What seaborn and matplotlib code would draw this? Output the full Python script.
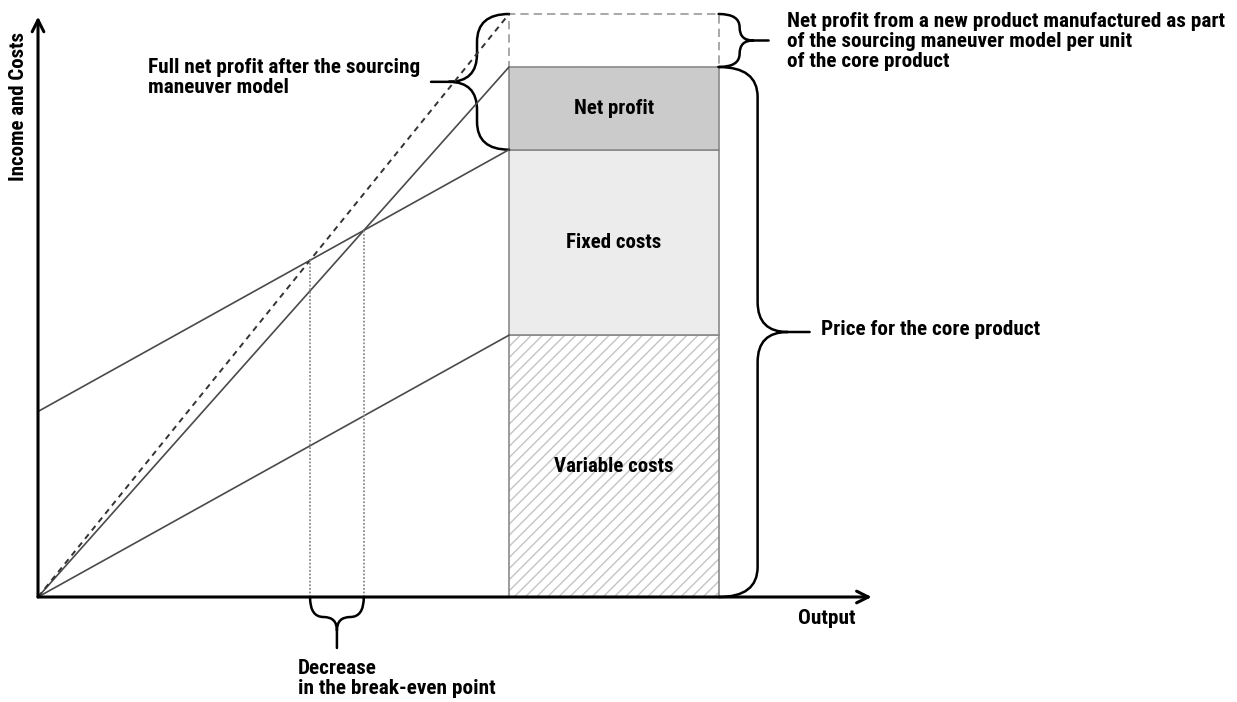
import numpy as np
import pandas as pd
import seaborn as sns
import matplotlib.pyplot as plt
from matplotlib.path import Path
from matplotlib.patches import PathPatch
from matplotlib import font_manager

sns.set_theme(style="white")
names = {f.name for f in font_manager.fontManager.ttflist}
fam = [f for f in ['Roboto Condensed', 'Liberation Sans Narrow', 'Roboto', 'DejaVu Sans'] if f in names]
plt.rcParams['font.family'] = fam
plt.rcParams['hatch.linewidth'] = 1.0

# ---------------- data ----------------
output = [0, 10]                 # output range of the lines
income = [0, 100]                # income, core product
income_new = [0, 110]            # income after the sourcing maneuver
total_costs = [35, 84.4]         # fixed + variable costs
variable_costs = [0, 49.4]       # variable costs

bar_x = 10.0                     # the unit bar stands at this output
bar_w = 4.45
bar_parts = ["Variable costs", "Fixed costs", "Net profit"]
bar_values = [49.4, 35.0, 15.6]
extra_profit = 10.0              # new product profit per unit

x_end = 17.7
y_end = 109.5

# break-even points (line intersections)
def cross(a, b):
    sa = (a[1] - a[0]) / (output[1] - output[0])
    sb = (b[1] - b[0]) / (output[1] - output[0])
    x = (b[0] - a[0]) / (sa - sb)
    return x, a[0] + sa * x

be_old = cross(income, total_costs)
be_new = cross(income_new, total_costs)

# ---------------- figure ----------------
fig = plt.figure(figsize=(12.37, 7.02), dpi=100)
ax = fig.add_axes([0, 0, 1, 1])
ax.set_xlim(-0.807, 25.456)
ax.set_ylim(-19.81, 112.64)
ax.set_axis_off()

line_c = '#4a4a4a'
sns.lineplot(x=output, y=income, color=line_c, lw=1.2, ax=ax)
sns.lineplot(x=output, y=total_costs, color=line_c, lw=1.2, ax=ax)
sns.lineplot(x=output, y=variable_costs, color=line_c, lw=1.2, ax=ax)
sns.lineplot(x=output, y=income_new, color='#333333', lw=1.4, ax=ax,
             linestyle=(0, (3, 2.5)))

# dotted break-even verticals
for bx, by in (be_new, be_old):
    ax.vlines(bx, 0, by, color='#8c8c8c', lw=1.3, linestyles=(0, (1, 1)))

# stacked bar
bottoms = np.concatenate([[0], np.cumsum(bar_values)[:-1]])
fills = ['white', '#ececec', '#cbcbcb']
for i, (name, v, b) in enumerate(zip(bar_parts, bar_values, bottoms)):
    if i == 0:
        ax.bar(bar_x, v, width=bar_w, bottom=b, align='edge', facecolor='white',
               edgecolor='#c4c4c4', lw=0, hatch='///')
    else:
        ax.bar(bar_x, v, width=bar_w, bottom=b, align='edge', facecolor=fills[i], lw=0)
    ax.bar(bar_x, v, width=bar_w, bottom=b, align='edge', fill=False,
           edgecolor='#8a8a8a', lw=1.2)
    ax.text(bar_x + bar_w / 2, b + v / 2, name, ha='center', va='center',
            fontsize=15, fontweight='bold', color='black')

price_top = sum(bar_values)
ax.bar(bar_x, extra_profit, width=bar_w, bottom=price_top, align='edge', fill=False,
       edgecolor='#9a9a9a', lw=1.2, linestyle=(0, (5, 3)))

# axes with open arrow heads
arrow = dict(arrowstyle='->,head_length=0.7,head_width=0.35', lw=2.2, color='black',
             shrinkA=0, shrinkB=0)
ax.annotate('', xy=(0, y_end), xytext=(0, 0), arrowprops=arrow)
ax.annotate('', xy=(x_end, 0), xytext=(0, 0), arrowprops=arrow)


def brace(p1, p2, out, depth, tip, r=28):
    a = ax.transData.transform(p1)
    b = ax.transData.transform(p2)
    L = np.linalg.norm(b - a)
    u = (b - a) / L
    n = np.array(out, float)
    r = min(r, L / 4)

    def P(s, t):
        return a + u * s + n * t

    m = L / 2
    verts = [P(0, 0), P(0, depth), P(r, depth), P(m - r, depth), P(m, depth),
             P(m, depth + r), P(m, depth + tip),
             P(m, depth + r), P(m, depth), P(m + r, depth), P(L - r, depth),
             P(L, depth), P(L, 0)]
    codes = [Path.MOVETO, Path.CURVE3, Path.CURVE3, Path.LINETO, Path.CURVE3,
             Path.CURVE3, Path.LINETO,
             Path.MOVETO, Path.CURVE3, Path.CURVE3, Path.LINETO,
             Path.CURVE3, Path.CURVE3]
    inv = ax.transData.inverted()
    path = Path(inv.transform(verts), codes)
    ax.add_patch(PathPatch(path, fill=False, lw=1.8, edgecolor='black',
                           capstyle='round', joinstyle='round'))
    return inv.transform(P(m, depth + tip))


txt = dict(fontsize=15.3, fontweight='bold', color='black', textcoords='offset pixels')

t1 = brace((bar_x, price_top + extra_profit), (bar_x, total_costs[1]), (-1, 0), 32, 46)
ax.annotate("Full net profit after the sourcing\nmaneuver model", xy=t1, xytext=(-11, 4),
            ha='right', va='center', multialignment='left', linespacing=1.05, **txt)

t2 = brace((bar_x + bar_w, price_top + extra_profit), (bar_x + bar_w, price_top), (1, 0), 21, 29, r=20)
ax.annotate("Net profit from a new product manufactured as part\n"
            "of the sourcing maneuver model per unit\nof the core product",
            xy=t2, xytext=(18, -1), ha='left', va='center', linespacing=1.05, **txt)

t3 = brace((bar_x + bar_w, price_top), (bar_x + bar_w, 0), (1, 0), 39, 52, r=30)
ax.annotate("Price for the core product", xy=t3, xytext=(11, 2), ha='left', va='center', **txt)

t4 = brace((be_new[0], 0), (be_old[0], 0), (0, -1), 20, 31)
ax.annotate("Decrease\nin the break-even point", xy=t4, xytext=(-39, -11),
            ha='left', va='top', linespacing=1.05, **txt)

ax.annotate("Output", xy=(x_end, 0), xytext=(-45, -21), ha='center', va='center', **txt)
ax.text(-0.42, 92.5, "Income and Costs", rotation=90, ha='center', va='center',
        fontsize=15, fontweight='bold', color='black')

fig.savefig("out.png", dpi=100)
